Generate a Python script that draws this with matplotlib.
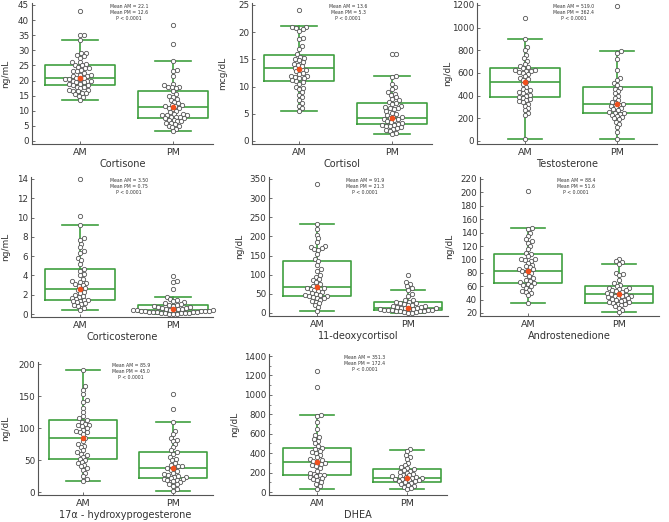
import numpy as np
import matplotlib
matplotlib.use('Agg')
import matplotlib.pyplot as plt
from matplotlib.ticker import MultipleLocator

# ---- data -------------------------------------------------------------------
groups = ['AM', 'PM']
titles = ['Cortisone', 'Cortisol', 'Testosterone', 'Corticosterone',
          '11-deoxycortisol', 'Androstenedione',
          '17\u03b1 - hydroxyprogesterone', 'DHEA']
units = ['ng/mL', 'mcg/dL', 'ng/dL', 'ng/mL', 'ng/dL', 'ng/dL', 'ng/dL', 'ng/dL']
mean_text = [('22.1', '12.6'), ('13.6', '5.3'), ('519.0', '362.4'), ('3.50', '0.75'),
             ('91.9', '21.3'), ('88.4', '51.6'), ('85.9', '45.0'), ('351.3', '172.4')]

cortisone_am = [43, 35, 35, 33.5, 29, 29, 28.5, 28, 27.5, 26, 26, 25.5, 25, 25, 24.5, 24, 24,
                23.5, 23, 23, 22.5, 22, 22, 21.5, 21.5, 21, 21, 20.5, 20.5, 20.5, 20, 20, 20,
                19.5, 19.5, 19, 19, 18.5, 18.5, 18, 18, 17.5, 17, 17, 16.5, 16.5, 16, 16, 15.5,
                15, 14.5, 13.5]
cortisone_pm = [38.5, 32, 26.5, 23.5, 23, 21.5, 19, 18.5, 18, 18, 17.8, 17.5, 16.5, 15.5, 15,
                14.5, 14, 13.5, 13, 12.5, 12, 12, 11.5, 11.5, 11, 11, 10.5, 10, 9.5, 9, 9, 8.5,
                8.5, 8.5, 8, 8, 8, 7.5, 7.5, 7, 7, 6.5, 6.5, 6, 6, 5.5, 5, 5, 4.5, 4, 3.2]
cortisol_am = [24, 21, 21, 20.8, 20.5, 20.3, 19, 18.8, 17.5, 17, 16, 15.5, 15.2, 15, 14.8, 14.5,
               14.2, 14, 13.8, 13.5, 13.2, 13, 12.8, 12.5, 12.3, 12, 12, 11.8, 11.5, 11.5, 11.2,
               11, 10.8, 10.5, 10, 9.8, 9.5, 9, 8.5, 8, 7.5, 7, 6.5, 6, 5.5]
cortisol_pm = [16, 16, 12, 11.8, 10.5, 10, 9.5, 9, 8.7, 8.5, 8, 7.8, 7.5, 7.2, 7, 6.8, 6.5, 6.2,
               6, 6, 5.8, 5.5, 5.2, 5, 4.8, 4.5, 4.4, 4.2, 4, 4, 3.8, 3.6, 3.5, 3.3, 3.2, 3, 3,
               2.8, 2.7, 2.5, 2.4, 2.2, 2, 1.8, 1.5, 1.2]
testosterone_am = [1085, 900, 830, 800, 760, 730, 710, 680, 660, 650, 640, 630, 625, 620, 615,
                   610, 600, 590, 570, 560, 550, 540, 520, 500, 480, 460, 450, 440, 430, 420,
                   410, 400, 390, 380, 370, 360, 350, 340, 330, 310, 290, 270, 250, 230, 20]
testosterone_pm = [1190, 790, 780, 720, 630, 560, 540, 510, 490, 470, 460, 440, 420, 400, 380,
                   360, 345, 335, 325, 320, 310, 300, 290, 280, 270, 260, 250, 245, 240, 230,
                   220, 210, 200, 190, 170, 150, 120, 80, 20]
corticosterone_am = [14, 10.2, 9.25, 7.9, 7.7, 7.3, 6.9, 6.5, 6.3, 5.8, 5.6, 5.2, 4.7, 4.5, 4.2,
                     4, 3.6, 3.4, 3.3, 3.2, 3.1, 3.0, 2.9, 2.7, 2.6, 2.5, 2.3, 2.2, 2.0, 1.9, 1.8,
                     1.7, 1.6, 1.5, 1.5, 1.4, 1.3, 1.2, 1.1, 1.0, 0.9, 0.8, 0.6, 0.45]
corticosterone_pm = [3.9, 3.4, 3.3, 2.6, 1.75, 1.6, 1.5, 1.3, 1.2, 1.1, 1.0, 0.95, 0.9, 0.85,
                     0.8, 0.75, 0.7, 0.65, 0.6, 0.55, 0.5, 0.5, 0.45, 0.45, 0.4, 0.4, 0.4, 0.35,
                     0.35, 0.3, 0.3, 0.3, 0.25, 0.25, 0.2, 0.2, 0.2, 0.15, 0.15, 0.1, 0.1, 0.1,
                     0.05, 0.05, 0.05]
deoxycortisol_am = [338, 233, 220, 205, 195, 185, 175, 172, 170, 168, 165, 155, 140, 135, 125,
                    115, 110, 100, 95, 88, 85, 80, 75, 70, 68, 66, 64, 62, 60, 58, 55, 52, 50,
                    48, 46, 45, 44, 42, 40, 38, 35, 32, 30, 25, 20, 15, 5]
deoxycortisol_pm = [100, 80, 75, 70, 65, 60, 50, 45, 35, 33, 30, 28, 26, 25, 23, 22, 20, 18, 17,
                    16, 15, 14, 13, 12, 12, 11, 10, 10, 9, 9, 8, 8, 7, 6, 5, 5, 4, 3, 2, 1, 0]
androstenedione_am = [202, 147, 145, 140, 135, 130, 127, 125, 120, 115, 110, 108, 105, 100, 100,
                      99, 98, 95, 92, 90, 88, 86, 85, 83, 82, 80, 78, 75, 72, 70, 68, 66, 65,
                      63, 62, 60, 58, 55, 53, 52, 50, 47, 35]
androstenedione_pm = [100, 97, 96, 93, 80, 78, 76, 70, 65, 62, 60, 58, 57, 56, 55, 54, 53, 52,
                      50, 49, 48, 47, 46, 45, 45, 44, 43, 42, 41, 40, 39, 38, 37, 36, 35, 34, 33,
                      32, 30, 28, 25, 21]
ohp_am = [190, 165, 160, 153, 143, 140, 132, 125, 118, 115, 113, 110, 107, 105, 104, 103, 100,
          97, 95, 94, 93, 90, 85, 80, 75, 72, 70, 65, 62, 60, 58, 55, 52, 50, 47, 45, 42, 40,
          37, 35, 30, 25, 20, 17]
ohp_pm = [153, 130, 110, 95, 90, 85, 82, 80, 75, 70, 65, 63, 60, 55, 52, 50, 45, 42, 40, 40, 38,
          37, 35, 33, 30, 28, 27, 25, 24, 23, 22, 21, 20, 19, 18, 17, 15, 13, 12, 10, 5, 2]
dhea_am = [1250, 1080, 790, 785, 720, 650, 590, 570, 550, 530, 500, 470, 450, 440, 420, 410, 400,
           380, 360, 340, 330, 320, 310, 300, 290, 280, 270, 250, 220, 200, 190, 180, 170, 160,
           150, 140, 130, 120, 100, 80, 60, 30]
dhea_pm = [440, 420, 380, 360, 340, 300, 280, 260, 250, 240, 230, 220, 210, 200, 190, 180, 170,
           165, 160, 155, 150, 145, 140, 135, 130, 125, 120, 115, 110, 100, 90, 80, 70, 60, 50,
           40, 30]

values = [(cortisone_am, cortisone_pm), (cortisol_am, cortisol_pm),
          (testosterone_am, testosterone_pm), (corticosterone_am, corticosterone_pm),
          (deoxycortisol_am, deoxycortisol_pm), (androstenedione_am, androstenedione_pm),
          (ohp_am, ohp_pm), (dhea_am, dhea_pm)]

# box stats per panel: (whislo, q1, med, q3, whishi) for AM and PM
box_am = [(13.5, 18.5, 21, 25, 33.5), (5.5, 11.1, 13.4, 15.9, 21.1), (20, 390, 522, 640, 900),
          (0.45, 1.5, 2.6, 4.7, 9.25), (5, 45, 67, 135, 233), (35, 65, 83, 108, 147),
          (17, 52, 85, 113, 190), (30, 175, 305, 455, 790)]
box_pm = [(3.2, 7.7, 11.3, 16.7, 26.5), (1.2, 3.1, 4.2, 6.9, 12), (20, 245, 330, 475, 790),
          (0.05, 0.25, 0.45, 0.95, 1.75), (0, 8, 12, 29, 60), (21, 35, 48, 60, 93),
          (2, 22, 37, 62, 110), (30, 100, 140, 240, 430)]
mean_dot_am = [21, 13.3, 525, 2.6, 68, 83, 85, 305]
mean_dot_pm = [11.3, 4.2, 330, 0.5, 12, 48, 38, 140]

# y ticks: (first, last, step)
yticks = [(0, 45, 5), (0, 25, 5), (0, 1200, 200), (0, 14, 2), (0, 350, 50),
          (20, 220, 20), (0, 200, 50), (0, 1400, 200)]

# ---- layout in pixels: spine x, AM x, PM x, top tick y, bottom tick y --------
W, H = 669, 522
layout = [(32, 80, 173, 5, 141), (252, 299, 392, 5, 141), (477, 525, 617, 5, 141),
          (31, 80, 173, 179, 314), (269, 317, 408, 179, 313), (480, 528, 619, 179, 313),
          (38, 83, 173, 364, 492), (269, 317, 407, 356, 492)]
ylab_x = [6, 223, 448, 6, 240, 450, 6, 235]

green = '#3f9f3f'
axcol = '#555555'
txtcol = '#333333'

fig = plt.figure(figsize=(W / 100, H / 100), dpi=100)


def swarm(vals, px_per_unit, d):
    # simple beeswarm: offsets in pixels
    order = np.argsort(vals)
    placed = []
    offs = np.zeros(len(vals))
    for i in order:
        y = vals[i] * px_per_unit
        near = [(x, yy) for x, yy in placed if abs(yy - y) < d]
        cands = [0.0]
        for x, yy in near:
            dx = np.sqrt(d * d - (yy - y) ** 2)
            cands += [x + dx, x - dx]
        cands.sort(key=abs)
        for c in cands:
            if all((c - x) ** 2 + (y - yy) ** 2 >= d * d - 1e-6 for x, yy in near):
                offs[i] = c
                break
        placed.append((offs[i], y))
    return offs


for k in range(8):
    sx, xam, xpm, ttop, tbot = layout[k]
    right = xpm + 40
    unit = xpm - xam
    y0, y1, step = yticks[k]
    s = (tbot - ttop) / (y1 - y0)
    top_px, bot_px = ttop - 2, tbot + 3
    ax = fig.add_axes([sx / W, 1 - bot_px / H, (right - sx) / W, (bot_px - top_px) / H])
    ax.set_xlim(1 - (xam - sx) / unit, 2 + 40 / unit)
    ax.set_ylim(y0 - 3 / s, y1 + 2 / s)

    stats = []
    for b in (box_am[k], box_pm[k]):
        stats.append(dict(whislo=b[0], q1=b[1], med=b[2], q3=b[3], whishi=b[4], fliers=[]))
    lp = dict(color=green, linewidth=1.2)
    ax.bxp(stats, positions=[1, 2], widths=0.75, capwidths=0.38, showfliers=False,
           boxprops=lp, medianprops=lp, whiskerprops=lp, capprops=lp, zorder=1)

    for g in range(2):
        v = np.array(values[k][g], dtype=float)
        offs = swarm(v, s, 4.0)
        ax.plot(g + 1 + offs / unit, v, 'o', ms=3.1, mfc='white', mec='#555555',
                mew=0.6, zorder=3, clip_on=False)
    ax.plot([1, 2], [mean_dot_am[k], mean_dot_pm[k]], 'o', ms=3.0, color='#f0501e',
            mec='#f0501e', zorder=4, linestyle='none')

    for sp in ['top', 'right']:
        ax.spines[sp].set_visible(False)
    for sp in ['left', 'bottom']:
        ax.spines[sp].set_color(axcol)
        ax.spines[sp].set_linewidth(0.8)
    ax.set_yticks(np.arange(y0, y1 + step / 2, step))
    if k == 7:
        ax.yaxis.set_minor_locator(MultipleLocator(100))
    ax.set_xticks([1, 2])
    ax.set_xticklabels(groups)
    ax.tick_params(direction='in', length=2.5, width=0.6, color=axcol, labelsize=6.3,
                   labelcolor=txtcol, pad=2)
    ax.tick_params(which='minor', direction='in', length=1.5, width=0.5, color=axcol)
    ax.tick_params(axis='x', labelsize=6.8, pad=3)

    # labels
    fig.text(ylab_x[k] / W, 1 - (top_px + bot_px) / 2 / H, units[k], rotation=90,
             ha='center', va='center', fontsize=6.5, color=txtcol)
    fig.text((sx + right) / 2 / W, 1 - (bot_px + 20) / H, titles[k], ha='center',
             va='center', fontsize=7, color=txtcol)
    ma, mp = mean_text[k]
    fig.text((xam + xpm) / 2 / W + 0.004, 1 - (ttop - 1) / H,
             'Mean AM = %s\nMean PM = %s\nP < 0.0001' % (ma, mp),
             ha='center', va='top', fontsize=3.3, color='#333333', linespacing=1.3)

fig.savefig('out.png', dpi=100)
